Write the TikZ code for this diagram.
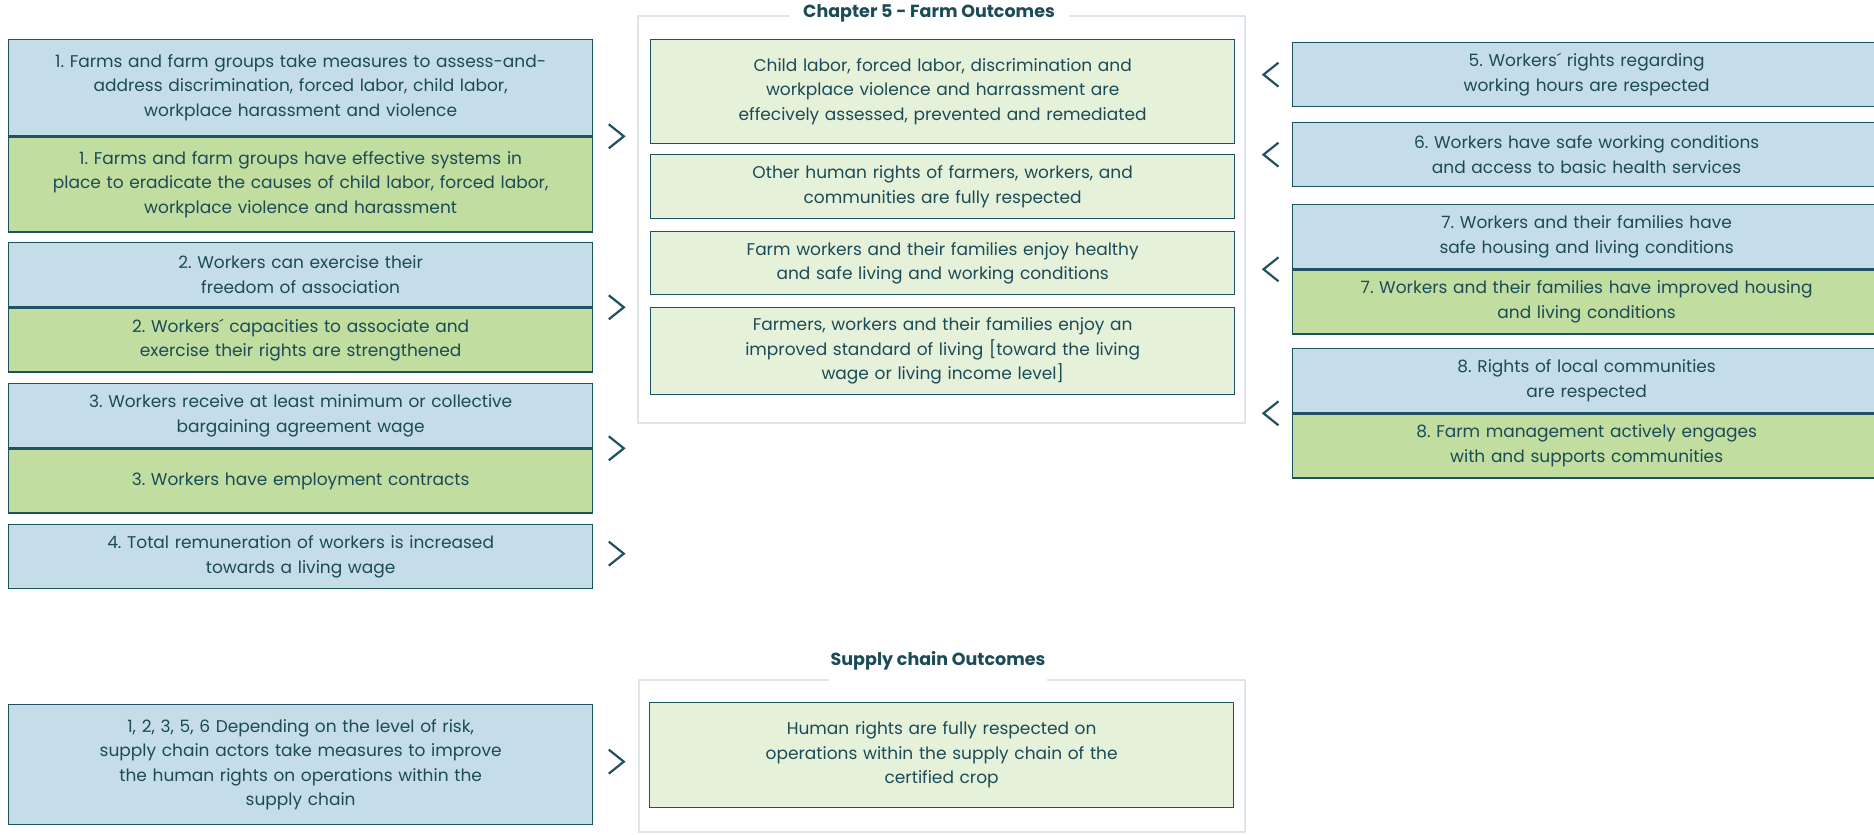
\documentclass[tikz,border=0pt]{standalone}
\usepackage{fontspec}
\setmainfont{Poppins}
\usetikzlibrary{positioning}
\frenchspacing

\definecolor{inkteal}{HTML}{1B4B57}
\definecolor{edgeteal}{HTML}{1F5260}
\definecolor{actblue}{HTML}{C5DDE8}
\definecolor{resgreen}{HTML}{C1DDA0}
\definecolor{outgreen}{HTML}{E6F1DA}
\definecolor{framegray}{HTML}{DCE5E9}

\tikzset{
  box/.style={draw=edgeteal, line width=1.3pt, text=inkteal, align=center,
    inner sep=0pt, anchor=north west, font=\fontsize{17}{24.5}\selectfont},
  leftcol/.style={box, text width=584pt},
  rightcol/.style={box, text width=588pt},
  bluebox/.style={fill=actblue},
  greenbox/.style={fill=resgreen},
  outbox/.style={box, fill=outgreen, text width=584pt},
  frame/.style={draw=framegray, line width=2pt},
  heading/.style={text=inkteal, font=\bfseries\fontsize{17.5}{21}\selectfont},
  chevline/.style={draw=edgeteal, line width=2.2pt},
  chevright/.pic={\draw[chevline] (-7.5,-12) -- (7.5,0) -- (-7.5,12);},
  chevleft/.pic={\draw[chevline] (7.5,-12) -- (-7.5,0) -- (7.5,12);}
}

\begin{document}
\begin{tikzpicture}[x=1pt, y=-1pt]
  \useasboundingbox (0,0) rectangle (1874,835);

  % frames round the outcomes
  \draw[frame] (790,16) -- (638,16) -- (638,423) -- (1245,423) -- (1245,16) -- (1069,16);
  \node[heading] (t1) at (929,13) {Chapter 5 - Farm Outcomes};
  \draw[frame] (829,680) -- (639,680) -- (639,832) -- (1245,832) -- (1245,680) -- (1047,680);
  \node[heading] (t2) at (938,661) {Supply chain Outcomes};

  % left column
  \node[leftcol, bluebox, minimum height=96pt] (a1) at (8,39)
    {1. Farms and farm groups take measures to assess-and-\\address discrimination, forced labor, child labor,\\workplace harassment and violence};
  \node[leftcol, greenbox, minimum height=95pt, below=0pt of a1] (a2)
    {1. Farms and farm groups have effective systems in\\place to eradicate the causes of child labor, forced labor,\\workplace violence and harassment};
  \node[leftcol, bluebox, minimum height=64pt] (b1) at (8,242)
    {2. Workers can exercise their\\freedom of association};
  \node[leftcol, greenbox, minimum height=64pt, below=0pt of b1] (b2)
    {2. Workers´ capacities to associate and\\exercise their rights are strengthened};
  \node[leftcol, bluebox, minimum height=64pt] (c1) at (8,383)
    {3. Workers receive at least minimum or collective\\bargaining agreement wage};
  \node[leftcol, greenbox, minimum height=64pt, below=0pt of c1] (c2)
    {3. Workers have employment contracts};
  \node[leftcol, bluebox, minimum height=64pt] (d1) at (8,524)
    {4. Total remuneration of workers is increased\\towards a living wage};
  \node[leftcol, bluebox, minimum height=120pt] (e1) at (8,704)
    {1, 2, 3, 5, 6 Depending on the level of risk,\\supply chain actors take measures to improve\\the human rights on operations within the\\supply chain};

  % outcomes
  \node[outbox, minimum height=104pt] (m1) at (650,39)
    {Child labor, forced labor, discrimination and\\workplace violence and harrassment are\\effecively assessed, prevented and remediated};
  \node[outbox, minimum height=64pt] (m2) at (650,154)
    {Other human rights of farmers, workers, and\\communities are fully respected};
  \node[outbox, minimum height=63pt] (m3) at (650,231)
    {Farm workers and their families enjoy healthy\\and safe living and working conditions};
  \node[outbox, minimum height=87pt] (m4) at (650,307)
    {Farmers, workers and their families enjoy an\\improved standard of living [toward the living\\wage or living income level]};
  \node[outbox, minimum height=105pt] (s1) at (649,702)
    {Human rights are fully respected on\\operations within the supply chain of the\\certified crop};

  % right column
  \node[rightcol, bluebox, minimum height=64pt] (r5) at (1292,42)
    {5. Workers´ rights regarding\\working hours are respected};
  \node[rightcol, bluebox, minimum height=64pt] (r6) at (1292,122)
    {6. Workers have safe working conditions\\and access to basic health services};
  \node[rightcol, bluebox, minimum height=64pt] (r7a) at (1292,204)
    {7. Workers and their families have\\safe housing and living conditions};
  \node[rightcol, greenbox, minimum height=64pt, below=0pt of r7a] (r7b)
    {7. Workers and their families have improved housing\\and living conditions};
  \node[rightcol, bluebox, minimum height=64pt] (r8a) at (1292,348)
    {8. Rights of local communities\\are respected};
  \node[rightcol, greenbox, minimum height=64pt, below=0pt of r8a] (r8b)
    {8. Farm management actively engages\\with and supports communities};

  % chevrons
  \pic at ([xshift=23pt]a1.south east) {chevright};
  \pic at ([xshift=23pt]b1.south east) {chevright};
  \pic at ([xshift=23pt]c1.south east) {chevright};
  \pic at ([xshift=23pt,yshift=3pt]d1.east) {chevright};
  \pic at ([xshift=23pt,yshift=3pt]e1.east) {chevright};
  \pic at ([xshift=-21pt]r5.west) {chevleft};
  \pic at ([xshift=-21pt]r6.west) {chevleft};
  \pic at ([xshift=-21pt]r7a.south west) {chevleft};
  \pic at ([xshift=-21pt]r8a.south west) {chevleft};
\end{tikzpicture}
\end{document}
